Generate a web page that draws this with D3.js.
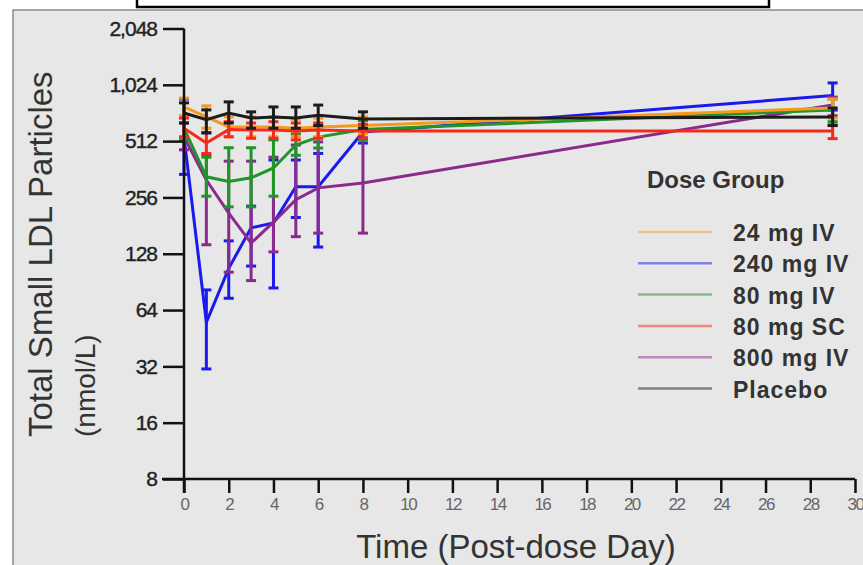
<!DOCTYPE html>
<html>
<head>
<meta charset="utf-8">
<script src="https://cdn.jsdelivr.net/npm/d3@7"></script>
<style>
  html, body { margin: 0; padding: 0; background: #fff; }
  svg { display: block; font-family: "Liberation Sans", Arial, sans-serif; }
</style>
</head>
<body>
<svg id="chart" width="863" height="565"></svg>
<script>
// days sampled
const days = [0, 1, 2, 3, 4, 5, 6, 8, 29];

// group names and colours, in legend order
const groups = ['24 mg IV', '240 mg IV', '80 mg IV', '80 mg SC', '800 mg IV', 'Placebo'];
const colors = ['#f59a1e', '#1a1aef', '#20952a', '#f52a1a', '#8a2a8c', '#1c1c1c'];

// means and error ranges (nmol/L)
const mean24 = [780, 690, 610, 610, 610, 600, 610, 620, 770];
const lo24   = [700, 600, 540, 540, 540, 540, 540, 560, 680];
const hi24   = [870, 790, 690, 690, 690, 670, 680, 690, 860];

const mean240 = [540, 55, 107, 176, 187, 292, 292, 573, 897];
const lo240   = [340, 31, 74, 110, 84, 200, 139, 500, 750];
const hi240   = [860, 82, 150, 230, 406, 406, 440, 660, 1048];

const mean80iv = [600, 330, 312, 326, 368, 488, 538, 590, 752];
const lo80iv   = [520, 260, 228, 228, 260, 430, 470, 520, 650];
const hi80iv   = [690, 420, 472, 472, 520, 560, 610, 660, 860];

const mean80sc = [600, 500, 590, 588, 588, 580, 588, 580, 580];
const lo80sc   = [540, 440, 540, 530, 530, 520, 530, 530, 528];
const hi80sc   = [680, 570, 650, 640, 650, 640, 640, 630, 625];

const mean800 = [540, 317, 211, 146, 189, 249, 288, 306, 800];
const lo800   = [460, 143, 102, 92, 131, 158, 165, 165, 700];
const hi800   = [640, 430, 400, 400, 420, 488, 507, 533, 880];

const meanPbo = [724, 666, 724, 680, 690, 680, 705, 672, 690];
const loPbo   = [640, 566, 640, 600, 600, 600, 620, 600, 620];
const hiPbo   = [820, 752, 830, 734, 780, 780, 798, 734, 770];

const yTicks = [8, 16, 32, 64, 128, 256, 512, 1024, 2048];
const xTicks = d3.range(0, 31, 2);

const series = [
  { name: groups[1], color: colors[1], mean: mean240, lo: lo240, hi: hi240 },
  { name: groups[4], color: colors[4], mean: mean800, lo: lo800, hi: hi800 },
  { name: groups[2], color: colors[2], mean: mean80iv, lo: lo80iv, hi: hi80iv },
  { name: groups[0], color: colors[0], mean: mean24, lo: lo24, hi: hi24 },
  { name: groups[3], color: colors[3], mean: mean80sc, lo: lo80sc, hi: hi80sc },
  { name: groups[5], color: colors[5], mean: meanPbo, lo: loPbo, hi: hiPbo }
];

const svg = d3.select('#chart');

// grey panel + the cut-off box on top
svg.append('rect')
  .attr('x', 13).attr('y', 10).attr('width', 870).attr('height', 570)
  .attr('fill', '#e7e7e7').attr('stroke', '#8a8a8a').attr('stroke-width', 1.5);
svg.append('rect')
  .attr('x', 137).attr('y', -4).attr('width', 632).attr('height', 11)
  .attr('fill', '#fff').attr('stroke', '#000').attr('stroke-width', 2.5);

const x = d3.scaleLinear().domain([0, 30]).range([184, 855]);
const y = d3.scaleLog().base(2).domain([8, 2048]).range([479, 28.5]);

// data
const plot = svg.append('g');
const line = d3.line().x((d, i) => x(days[i])).y(d => y(d));

series.forEach(s => {
  const g = plot.append('g');
  // error bars
  days.forEach((t, i) => {
    const cx = x(t);
    g.append('line')
      .attr('x1', cx).attr('x2', cx)
      .attr('y1', y(s.lo[i])).attr('y2', y(s.hi[i]))
      .attr('stroke', s.color).attr('stroke-width', 3);
    [s.lo[i], s.hi[i]].forEach(v => {
      g.append('line')
        .attr('x1', cx - 5).attr('x2', cx + 5)
        .attr('y1', y(v)).attr('y2', y(v))
        .attr('stroke', s.color).attr('stroke-width', 3);
    });
  });
  g.append('path')
    .datum(s.mean)
    .attr('fill', 'none')
    .attr('stroke', s.color)
    .attr('stroke-width', 3)
    .attr('d', line);
});

// axes
const yAxis = svg.append('g')
  .attr('transform', 'translate(184,0)')
  .call(d3.axisLeft(y).tickValues(yTicks).tickFormat(d3.format(',')).tickSize(21).tickSizeOuter(0));
yAxis.select('.domain').attr('stroke', '#111').attr('stroke-width', 2.5).attr('d', 'M0,28.5V493');
yAxis.selectAll('.tick line').attr('stroke', '#111').attr('stroke-width', 2.5);
yAxis.selectAll('.tick text')
  .attr('x', -27)
  .attr('font-family', '"Liberation Sans", Arial, sans-serif')
  .attr('font-size', 21)
  .attr('letter-spacing', -1)
  .attr('fill', '#222')
  .attr('stroke', '#222').attr('stroke-width', 0.4);

const xAxis = svg.append('g')
  .attr('transform', 'translate(0,479)')
  .call(d3.axisBottom(x).tickValues(xTicks).tickSize(14).tickSizeOuter(0));
xAxis.select('.domain').attr('stroke', '#111').attr('stroke-width', 2.5).attr('d', 'M162,0H855');
xAxis.selectAll('.tick line').attr('stroke', '#111').attr('stroke-width', 2.5);
xAxis.selectAll('.tick text')
  .attr('y', 31)
  .attr('dy', 0)
  .attr('font-family', '"Liberation Sans", Arial, sans-serif')
  .attr('font-size', 17)
  .attr('letter-spacing', -1.5)
  .attr('fill', '#666');

// axis titles
svg.append('text')
  .attr('x', 516).attr('y', 558)
  .attr('text-anchor', 'middle')
  .attr('font-size', 33)
  .attr('fill', '#333')
  .text('Time (Post-dose Day)');

svg.append('text')
  .attr('transform', 'translate(52,437) rotate(-90)')
  .attr('font-size', 33)
  .attr('fill', '#333')
  .text('Total Small LDL Particles');
svg.append('text')
  .attr('transform', 'translate(95,437) rotate(-90)')
  .attr('font-size', 28)
  .attr('fill', '#333')
  .text('(nmol/L)');

// legend
const legend = svg.append('g');
legend.append('text')
  .attr('x', 647).attr('y', 188)
  .attr('font-size', 24)
  .attr('font-weight', 'bold')
  .attr('fill', '#333')
  .text('Dose Group');
groups.forEach((name, i) => {
  const ly = 232 + i * 31.3;
  legend.append('line')
    .attr('x1', 638).attr('x2', 712)
    .attr('y1', ly).attr('y2', ly)
    .attr('stroke', colors[i]).attr('stroke-opacity', 0.5)
    .attr('stroke-width', 2.5);
  legend.append('text')
    .attr('x', 733).attr('y', ly + 9)
    .attr('font-size', 23)
    .attr('font-weight', 'bold')
    .attr('letter-spacing', 1)
    .attr('fill', '#333')
    .text(name);
});
</script>
</body>
</html>
